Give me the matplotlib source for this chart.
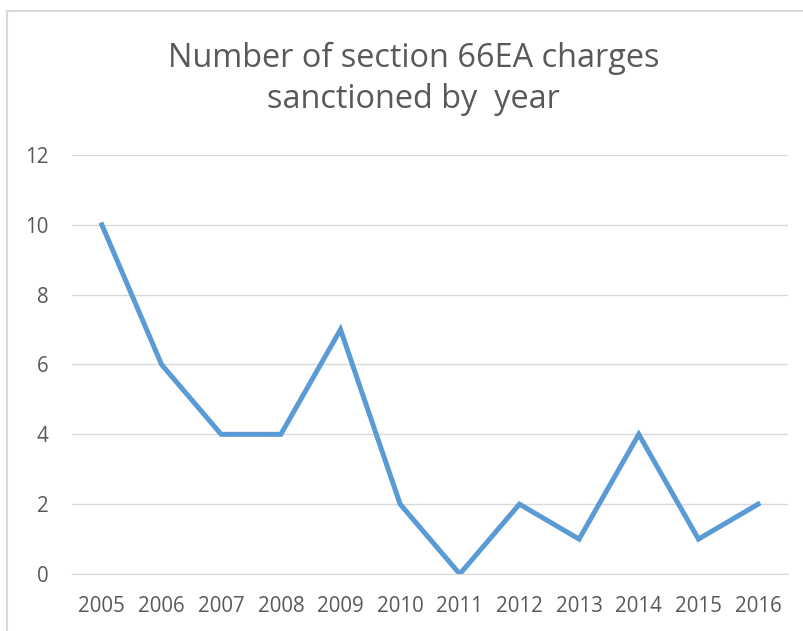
import matplotlib.pyplot as plt
from matplotlib.patches import Rectangle

years = ['2005', '2006', '2007', '2008', '2009', '2010',
         '2011', '2012', '2013', '2014', '2015', '2016']
charges = [10, 6, 4, 4, 7, 2, 0, 2, 1, 4, 1, 2]
yticks = [0, 2, 4, 6, 8, 10, 12]

plt.rcParams['font.family'] = ['Open Sans', 'DejaVu Sans']

fig = plt.figure(figsize=(8.04, 6.31), dpi=100)
ax = fig.add_axes([0.0896, 0.0903, 0.8904, 0.6641])

x = list(range(len(years)))
ax.plot(x, charges, color='#5B9BD5', linewidth=3.6, solid_joinstyle='miter')

ax.set_xlim(-0.5, len(years) - 0.5)
ax.set_ylim(0, 12)
ax.set_yticks(yticks)
ax.set_xticks(x)
ax.set_xticklabels(years)
ax.grid(axis='y', color='#D9D9D9', linewidth=1)
ax.set_axisbelow(True)
for s in ['top', 'right', 'left']:
    ax.spines[s].set_visible(False)
ax.spines['bottom'].set_color('#D9D9D9')
ax.tick_params(length=0, labelsize=14.8, colors='#595959', pad=16)
ax.tick_params(axis='y', pad=17)

fig.text(0.514, 0.875, 'Number of section 66EA charges\nsanctioned by  year',
         ha='center', va='center', fontsize=23.4, color='#595959', linespacing=1.3)

# chart border, cropped at right and bottom
fig.patches.append(Rectangle((7 / 804, -0.1), 1.0, (631 - 11) / 631 + 0.1,
                             transform=fig.transFigure, fill=False,
                             edgecolor='#D9D9D9', linewidth=1.5))

fig.savefig('out.png', dpi=100)
